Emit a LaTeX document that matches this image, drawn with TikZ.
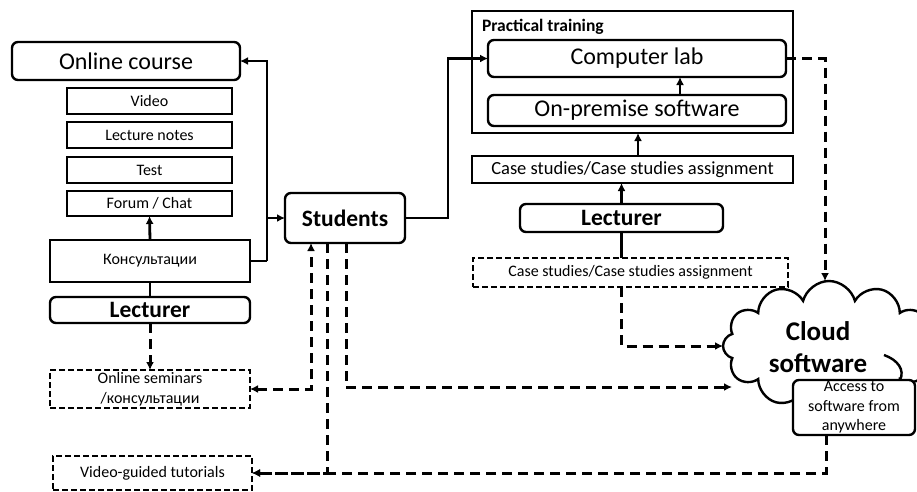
\documentclass[tikz,border=0pt]{standalone}
\usepackage{fontspec}
\setmainfont{Carlito}
\usetikzlibrary{shapes.symbols,arrows.meta,calc}
\begin{document}
\begin{tikzpicture}[x=1pt,y=-1pt,
  every node/.style={inner sep=0pt, outer sep=0pt, align=center},
  sbox/.style={draw, line width=2.4pt, rectangle, font=\fontsize{16}{19.5}\selectfont},
  rbox/.style={sbox, rounded corners=6pt},
  dbox/.style={sbox, dash pattern=on 6pt off 3pt},
  big/.style={font=\fontsize{24}{28}\selectfont},
  bigb/.style={font=\fontsize{23.5}{28}\selectfont\bfseries},
  tip/.tip={Latex[length=8pt,width=8pt]},
  plainline/.style={line width=2.8pt},
  conn/.style={plainline, -tip},
  dconn/.style={line width=3pt, dash pattern=on 10pt off 6pt, -tip},
  dboth/.style={dconn, tip-tip},
]
\useasboundingbox (0,0) rectangle (917,491);

% left column
\node[rbox,big,minimum width=228pt,minimum height=38pt] (online) at (126,61) {Online course};
\node[sbox,minimum width=165pt,minimum height=26pt] (video) at (149.5,101) {Video};
\node[sbox,minimum width=165pt,minimum height=26pt] (notes) at (149.5,135) {Lecture notes};
\node[sbox,minimum width=165pt,minimum height=26pt] (test) at (149.5,170) {Test};
\node[sbox,minimum width=165pt,minimum height=25pt] (forum) at (149.5,203.5) {Forum / Chat};
\node[sbox,minimum width=200pt,minimum height=42pt] (konsult) at (150,261) {Консультации};
\node[rbox,bigb,minimum width=200pt,minimum height=26pt] (lectL) at (150,310) {Lecturer};
\node[dbox,minimum width=200pt,minimum height=38pt] (seminars) at (150,389) {Online seminars\\/консультации};
\node[dbox,minimum width=199pt,minimum height=34pt] (videog) at (152.5,473) {Video-guided tutorials};

% students
\node[rbox,bigb,minimum width=120pt,minimum height=50pt] (students) at (345,218) {Students};

% right side
\node[draw,line width=2.4pt,minimum width=321pt,minimum height=122pt] (practical) at (632.5,72) {};
\node[anchor=west,font=\fontsize{17.5}{20}\selectfont\bfseries] (ptlabel) at (482,27) {Practical training};
\node[rbox,big,minimum width=298pt,minimum height=37pt] (complab) at (637,58.5) {Computer lab};
\node[rbox,big,minimum width=298pt,minimum height=31pt] (onprem) at (637,110.5) {On-premise software};
\node[sbox,font=\fontsize{18.5}{22}\selectfont,minimum width=321pt,minimum height=27pt] (caseS) at (632.5,169.5) {Case studies/Case studies assignment};
\node[rbox,bigb,minimum width=203pt,minimum height=28pt] (lectR) at (621.5,218) {Lecturer};
\node[dbox,minimum width=315pt,minimum height=29pt] (caseD) at (630.5,272.5) {Case studies/Case studies assignment};

% cloud
\node[cloud, cloud puffs=12, cloud ignores aspect, draw, line width=2.4pt, minimum width=212pt, minimum height=130pt] (cloud) at (829,346) {};
\draw[line width=2.4pt] (884,355) .. controls (898,360) and (905,370) .. (900,380);
\node[font=\fontsize{27}{32}\selectfont\bfseries] (cloudtxt) at (818,347) {Cloud\\software};
\node[rbox,fill=white,minimum width=122pt,minimum height=55pt] (access) at (854,407.5) {Access to\\software from\\anywhere};

% solid connectors
\coordinate (j1) at (267,261);
\draw[plainline] (konsult.east) -- (j1);
\draw[conn] (j1) |- (online.east);
\draw[conn] (j1 |- students.west) -- (students.west);
\draw[conn] (konsult.north) -- (forum.south);
\draw[plainline] (konsult.south) -- (lectL.north);
\coordinate (j2) at (448,218);
\draw[conn] (students.east) -- (j2) |- (complab.west);
\draw[conn] ([xshift=43pt]onprem.north) -- ([xshift=43pt]complab.south);
\draw[conn] ([xshift=5.5pt]caseS.north) -- ([xshift=5.5pt]practical.south);
\draw[conn] (lectR.north) -- (lectR.north |- caseS.south);
\draw[plainline] (lectR.south) -- (lectR.south |- caseD.north);

% dashed connectors
\draw[dconn] (lectL.south) -- (seminars.north);
\draw[dconn] (lectR.south |- caseD.south) |- (cloud.west);
\draw[dconn] (complab.east) -| ([xshift=-4pt]cloud.north);
\draw[dboth] (seminars.east) -| ([xshift=-34pt]students.south);
\draw[dconn] ([xshift=-18pt]students.south) |- (videog.east);
\coordinate (cin) at (732,387);
\draw[dconn] ([xshift=1pt]students.south) |- (cin);
\draw[dconn] ([xshift=-28pt]access.south) |- (videog.east);
\end{tikzpicture}
\end{document}
